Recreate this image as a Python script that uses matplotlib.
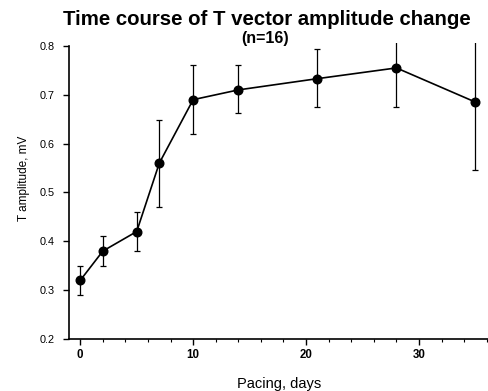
import matplotlib
matplotlib.use("Agg")
import matplotlib.pyplot as plt
from matplotlib.ticker import MultipleLocator

# values
days = [0, 2, 5, 7, 10, 14, 21, 28, 35]
amplitude = [0.32, 0.38, 0.42, 0.56, 0.69, 0.71, 0.733, 0.755, 0.685]
err_low = [0.03, 0.03, 0.04, 0.09, 0.07, 0.048, 0.058, 0.08, 0.14]
err_high = [0.03, 0.03, 0.04, 0.088, 0.07, 0.05, 0.06, 0.08, 0.14]

y_ticks = [0.2, 0.3, 0.4, 0.5, 0.6, 0.7, 0.8]
x_ticks = [0, 10, 20, 30]

plt.rcParams['font.family'] = ['Liberation Sans', 'DejaVu Sans']

fig = plt.figure(figsize=(4.89, 3.91), dpi=100)
ax = fig.add_axes([0.141, 0.133, 0.859, 0.757])

ax.errorbar(days, amplitude, yerr=[err_low, err_high], fmt='o-', color='black',
            ms=6.2, lw=1.2, elinewidth=0.9, capsize=2.5, capthick=0.9)

ax.set_xlim(-1, 36.2)
ax.set_ylim(0.2, 0.806)
ax.set_yticks(y_ticks)
ax.set_yticklabels([f"{v:.1f}" for v in y_ticks], fontsize=7.8)
ax.set_xticks(x_ticks)
ax.set_xticklabels([str(v) for v in x_ticks], fontsize=8.3, fontweight='bold')
ax.xaxis.set_minor_locator(MultipleLocator(2))

ax.spines['top'].set_visible(False)
ax.spines['right'].set_visible(False)
ax.spines['left'].set_bounds(0.2, 0.8)
for s in ('left', 'bottom'):
    ax.spines[s].set_linewidth(1.2)
ax.tick_params(which='major', length=4, width=1, direction='out', pad=3)
ax.tick_params(axis='y', which='major', pad=6)
ax.tick_params(which='minor', length=2.5, width=0.8, direction='out')

ax.set_xlabel("Pacing, days", fontsize=10.5)
ax.xaxis.set_label_coords(0.5, -0.128)
ax.set_ylabel("T amplitude, mV", fontsize=8.5)
ax.yaxis.set_label_coords(-0.093, 0.544)

fig.text(0.546, 0.951, "Time course of T vector amplitude change",
         ha='center', va='center', fontsize=14.7, fontweight='bold')
fig.text(0.542, 0.902, "(n=16)", ha='center', va='center',
         fontsize=11.5, fontweight='bold')

fig.savefig("out.png", dpi=100)
